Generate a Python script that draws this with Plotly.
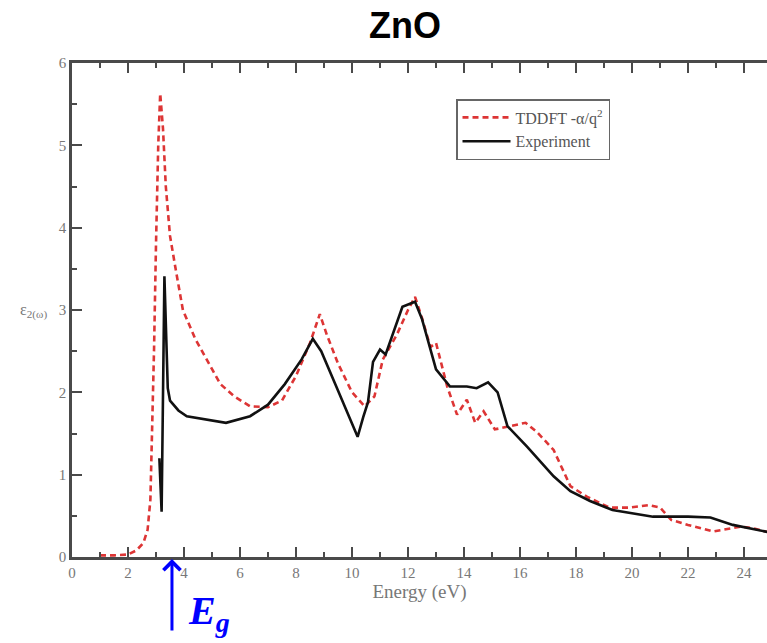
import plotly.graph_objects as go

# TDDFT (-alpha/q^2 kernel) dielectric function, imaginary part
tddft_energy = [1.0, 1.5, 2.0, 2.3, 2.55, 2.7, 2.8, 2.85, 2.93, 3.0, 3.08, 3.15,
                3.25, 3.35, 3.5, 3.7, 3.96, 4.4, 4.8, 5.3, 5.8, 6.36, 7.0, 7.5,
                8.0, 8.5, 8.85, 9.1, 9.5, 10.0, 10.45, 10.8, 11.1, 11.6, 12.0,
                12.25, 12.5, 12.8, 13.0, 13.4, 13.75, 14.1, 14.4, 14.7, 15.1,
                15.6, 16.2, 16.6, 17.2, 17.8, 18.4, 19.2, 19.9, 20.6, 21.0, 21.4,
                22.0, 22.9, 23.9, 24.3, 24.9]
tddft_eps2 = [0.02, 0.02, 0.03, 0.08, 0.17, 0.33, 0.7, 1.3, 2.52, 3.8, 5.0, 5.63,
              5.2, 4.5, 3.9, 3.5, 3.0, 2.65, 2.4, 2.1, 1.95, 1.83, 1.82, 1.9,
              2.2, 2.6, 2.95, 2.7, 2.35, 2.0, 1.83, 1.95, 2.4, 2.7, 3.0,
              3.16, 2.9, 2.55, 2.6, 2.07, 1.73, 1.91, 1.63, 1.77, 1.55,
              1.59, 1.63, 1.52, 1.3, 0.86, 0.73, 0.6, 0.6, 0.63, 0.6, 0.45,
              0.39, 0.31, 0.37, 0.35, 0.3]

# Measured spectrum
exp_energy = [3.12, 3.2, 3.3, 3.36, 3.42, 3.5, 3.8, 4.1, 5.0, 5.5, 6.36, 7.0,
              7.6, 8.2, 8.6, 8.9, 9.4, 9.9, 10.2, 10.4, 10.57, 10.75, 11.0,
              11.2, 11.3, 11.8, 12.25, 12.5, 13.0, 13.5, 14.1, 14.45, 14.86,
              15.2, 15.55, 16.25, 17.2, 17.8, 18.5, 19.3, 20.75, 22.0, 22.8,
              23.6, 24.9]
exp_eps2 = [1.2, 0.55, 3.41, 2.6, 2.05, 1.9, 1.78, 1.71, 1.66, 1.63, 1.71, 1.85,
            2.1, 2.4, 2.65, 2.5, 2.1, 1.7, 1.46, 1.7, 1.88, 2.37, 2.52,
            2.46, 2.56, 3.04, 3.1, 2.89, 2.28, 2.07, 2.07, 2.05, 2.12,
            2.0, 1.59, 1.34, 0.98, 0.8, 0.68, 0.57, 0.49, 0.49, 0.48,
            0.39, 0.3]

E_GAP = 3.57          # band gap marker position (eV)
x_tick_step = 2
y_tick_step = 1

W, H = 767, 643
ML, MR, MT, MB = 72, 0, 63, 86
X_MAX = 24.82

serif = "Liberation Serif, Times New Roman, serif"
axis_grey = "#4a4a4a"
label_grey = "#777777"

fig = go.Figure()
fig.add_trace(go.Scatter(
    x=tddft_energy, y=tddft_eps2, mode="lines",
    name="TDDFT -α/q<sup>2</sup>",
    line=dict(color="#dd3535", width=2.6, dash="6px,4px"),
))
fig.add_trace(go.Scatter(
    x=exp_energy, y=exp_eps2, mode="lines",
    name="Experiment",
    line=dict(color="#111111", width=2.6),
))

axis_common = dict(
    showline=True, linecolor=axis_grey, linewidth=2.5,
    ticks="inside", ticklen=10, tickwidth=2, tickcolor=axis_grey,
    showgrid=False, zeroline=False, tickmode="linear", tick0=0,
    tickfont=dict(family=serif, size=15, color=label_grey),
)

fig.update_xaxes(
    range=[0, X_MAX], dtick=x_tick_step, mirror="ticks",
    minor=dict(dtick=x_tick_step / 2, ticks="inside", ticklen=5, tickwidth=2,
               tickcolor=axis_grey),
    title=dict(text="Energy (eV)", font=dict(family=serif, size=19, color=label_grey),
               standoff=4),
    **axis_common,
)
fig.update_yaxes(
    range=[0, 6], dtick=y_tick_step,
    minor=dict(dtick=y_tick_step / 2, ticks="inside", ticklen=5, tickwidth=2,
               tickcolor=axis_grey),
    **axis_common,
)

plot_h = H - MT - MB
plot_w = W - ML - MR

def px_x(px):
    return (px - ML) / plot_w

def px_y(py):
    return (H - MB - py) / plot_h

fig.update_layout(
    width=W, height=H,
    margin=dict(l=ML, r=MR, t=MT, b=MB),
    paper_bgcolor="white", plot_bgcolor="white",
    showlegend=True,
    legend=dict(
        x=px_x(456), y=px_y(99), xanchor="left", yanchor="top",
        bgcolor="white", bordercolor="#666666", borderwidth=1.5,
        font=dict(family=serif, size=16, color="#555555"),
        tracegroupgap=0, itemwidth=48,
    ),
    annotations=[
        dict(text="<b>ZnO</b>", xref="paper", yref="paper",
             x=px_x(405), y=px_y(25), xanchor="center", yanchor="middle",
             showarrow=False,
             font=dict(family="Liberation Sans, Arial, sans-serif", size=36, color="black")),
        dict(text="ε<sub>2(ω)</sub>", xref="paper", yref="paper",
             x=px_x(33), y=px_y(311), xanchor="center", yanchor="middle",
             showarrow=False,
             font=dict(family=serif, size=16, color=label_grey)),
        # band-gap arrow
        dict(text="", x=E_GAP, y=px_y(559), xref="x", yref="paper",
             showarrow=True, ax=0, ay=73,
             arrowhead=4, arrowsize=1.1, arrowwidth=3, arrowcolor="#0000ff"),
        dict(text="<b><i>E<sub>g</sub></i></b>", xref="paper", yref="paper",
             x=px_x(186), y=px_y(613), xanchor="left", yanchor="middle",
             showarrow=False,
             font=dict(family=serif, size=40, color="#0000ff")),
    ],
)

fig.write_html("out.html")
